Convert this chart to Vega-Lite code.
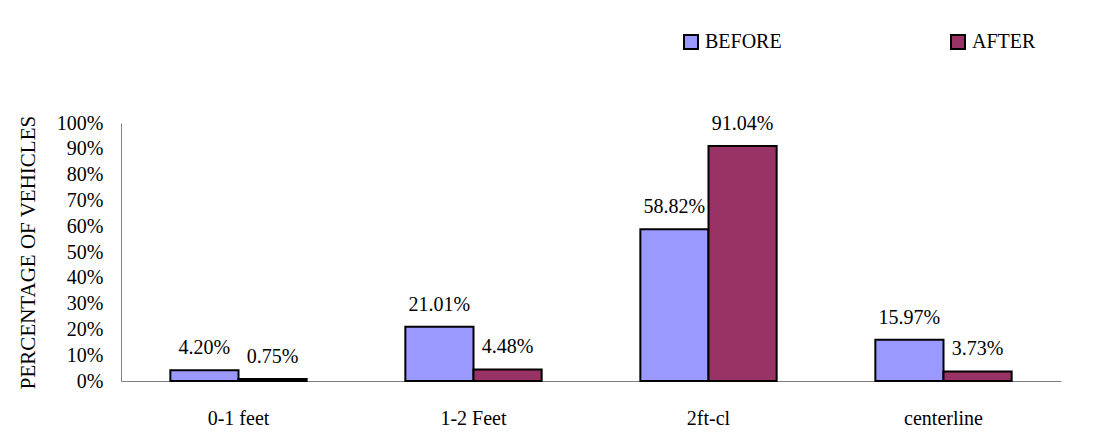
{
  "$schema": "https://vega.github.io/schema/vega-lite/v6.json",
  "width": 940,
  "height": 258,
  "autosize": "none",
  "padding": {"left": 121, "top": 123, "right": 50, "bottom": 56},
  "background": "white",
  "config": {
    "view": {"stroke": null},
    "font": "Liberation Serif, Times New Roman, serif",
    "axis": {"labelFont": "Liberation Serif, Times New Roman, serif", "titleFont": "Liberation Serif, Times New Roman, serif"},
    "legend": {"labelFont": "Liberation Serif, Times New Roman, serif"},
    "text": {"font": "Liberation Serif, Times New Roman, serif"}
  },
  "data": {
    "values": [
      {"category": "0-1 feet", "period": "BEFORE", "value": 0.0420},
      {"category": "0-1 feet", "period": "AFTER", "value": 0.0075},
      {"category": "1-2 Feet", "period": "BEFORE", "value": 0.2101},
      {"category": "1-2 Feet", "period": "AFTER", "value": 0.0448},
      {"category": "2ft-cl", "period": "BEFORE", "value": 0.5882},
      {"category": "2ft-cl", "period": "AFTER", "value": 0.9104},
      {"category": "centerline", "period": "BEFORE", "value": 0.1597},
      {"category": "centerline", "period": "AFTER", "value": 0.0373}
    ]
  },
  "encoding": {
    "x": {
      "field": "category",
      "type": "nominal",
      "sort": null,
      "scale": {"paddingInner": 0.42, "paddingOuter": 0.21},
      "axis": {
        "title": null,
        "labelAngle": 0,
        "labelFontSize": 20,
        "labelColor": "black",
        "labelPadding": 27,
        "ticks": false,
        "domainColor": "#808080",
        "domainWidth": 1
      }
    },
    "xOffset": {
      "field": "period",
      "type": "nominal",
      "sort": ["BEFORE", "AFTER"],
      "scale": {"paddingInner": 0, "paddingOuter": 0}
    },
    "y": {
      "field": "value",
      "type": "quantitative",
      "scale": {"domain": [0, 1], "nice": false},
      "axis": {
        "title": "PERCENTAGE OF VEHICLES",
        "titleFontSize": 21,
        "titleFontWeight": "normal",
        "titleColor": "black",
        "titlePadding": 18,
        "format": ".0%",
        "values": [0, 0.1, 0.2, 0.3, 0.4, 0.5, 0.6, 0.7, 0.8, 0.9, 1],
        "labelFontSize": 20,
        "labelColor": "black",
        "labelPadding": 18,
        "ticks": false,
        "grid": false,
        "domainColor": "#808080",
        "domainWidth": 1
      }
    }
  },
  "layer": [
    {
      "mark": {"type": "bar", "stroke": "black", "strokeWidth": 2},
      "encoding": {
        "color": {
          "field": "period",
          "type": "nominal",
          "sort": ["BEFORE", "AFTER"],
          "scale": {"domain": ["BEFORE", "AFTER"], "range": ["#9999FF", "#993366"]},
          "legend": {
            "title": null,
            "orient": "none",
            "legendX": 560,
            "legendY": -91,
            "direction": "horizontal",
            "columns": 2,
            "columnPadding": 165,
            "symbolType": "square",
            "symbolSize": 196,
            "symbolStrokeColor": "black",
            "symbolStrokeWidth": 2,
            "symbolOpacity": 1,
            "labelFontSize": 20,
            "labelColor": "black",
            "labelOffset": 4
          }
        }
      }
    },
    {
      "mark": {"type": "text", "baseline": "alphabetic", "dy": -16, "fontSize": 20, "color": "black"},
      "encoding": {
        "text": {"field": "value", "type": "quantitative", "format": ".2%"}
      }
    }
  ]
}
